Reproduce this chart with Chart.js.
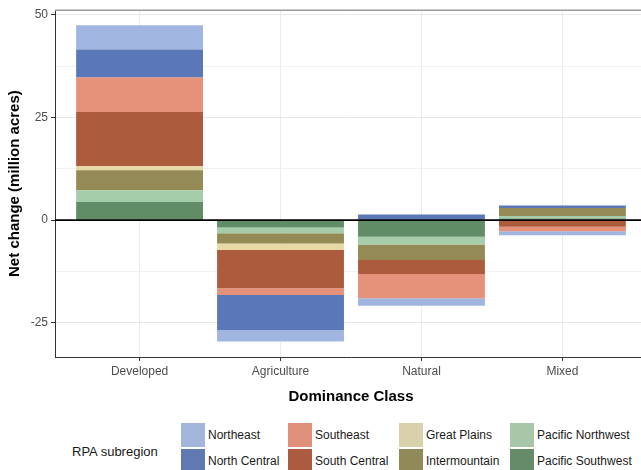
<!DOCTYPE html>
<html>
<head>
<meta charset="utf-8">
<script src="https://cdn.jsdelivr.net/npm/chart.js@4.4.1/dist/chart.umd.min.js"></script>
<style>
  body { margin: 0; background: #fff; font-family: "Liberation Sans", Arial, sans-serif; }
  #frame { position: relative; width: 641px; height: 470px; overflow: hidden; background: #fff; }
  #plot { position: absolute; left: 0; top: 0; width: 647px; height: 410px; }
  .legend-title { position: absolute; left: 72px; top: 444px; font-size: 13px; line-height: 16px; color: #1a1a1a; }
  .key { position: absolute; width: 24px; height: 24px; }
  .key-label { position: absolute; font-size: 12px; line-height: 24px; color: #1a1a1a; white-space: nowrap; }
</style>
</head>
<body>
<div id="frame">
  <div id="plot"><canvas id="chart"></canvas></div>
  <div class="legend-title">RPA subregion</div>
  <div id="legend"></div>
</div>
<script>
// Categories and series (million acres)
const categories = ['Developed', 'Agriculture', 'Natural', 'Mixed'];
const regions = ['Northeast', 'North Central', 'Southeast', 'South Central',
                 'Great Plains', 'Intermountain', 'Pacific Northwest', 'Pacific Southwest'];

const northeast        = [5.9, -2.85, -1.8, -1.0];
const northCentral     = [6.8, -8.5, 1.4, 0.65];
const southeast        = [8.4, -1.65, -5.9, -1.1];
const southCentral     = [13.2, -9.3, -3.4, -1.6];
const greatPlains      = [1.0, -1.6, 0, 0];
const intermountain    = [4.85, -2.45, -3.8, 1.95];
const pacificNorthwest = [2.85, -1.4, -1.85, 0.6];
const pacificSouthwest = [4.45, -1.8, -4.05, 0.4];

const yTicks = [-25, 0, 25, 50];
const yMinorTicks = [-12.5, 12.5, 37.5];

const barColors = ['#a1b5e1', '#5a77b7', '#e6917a', '#ad5b3d', '#e6d9a6', '#948a56', '#a6cdaa', '#618d66'];
const keyColors = ['#a4b5dc', '#6079b1', '#e0917b', '#ab5c40', '#d8d1ab', '#908a58', '#a8c7a8', '#658b69'];

const seriesValues = [northeast, northCentral, southeast, southCentral,
                      greatPlains, intermountain, pacificNorthwest, pacificSouthwest];

// ggplot stacks the last level next to zero, so feed datasets in reverse
const datasets = regions.map((name, i) => ({
  label: name,
  data: seriesValues[i].map((v, j) => ({ x: j + 1, y: v })),
  backgroundColor: barColors[i],
  borderWidth: 0,
  barPercentage: 0.9,
  categoryPercentage: 1.0
})).reverse();

const refLines = {
  id: 'refLines',
  afterDatasetsDraw(chart) {
    const { ctx, chartArea, scales } = chart;
    const y0 = scales.y.getPixelForValue(0);
    ctx.save();
    ctx.strokeStyle = '#000';
    ctx.lineWidth = 1.6;
    ctx.beginPath();
    ctx.moveTo(chartArea.left, y0);
    ctx.lineTo(chartArea.right, y0);
    ctx.stroke();
    // top panel border
    ctx.strokeStyle = '#9a9a9a';
    ctx.lineWidth = 1.5;
    ctx.beginPath();
    ctx.moveTo(chartArea.left, chartArea.top);
    ctx.lineTo(chartArea.right, chartArea.top);
    ctx.stroke();
    ctx.restore();
  }
};

const tickFont = { family: '"Liberation Sans", Arial, sans-serif', size: 12 };
const titleFont = { family: '"Liberation Sans", Arial, sans-serif', size: 15, weight: 'bold' };

new Chart(document.getElementById('chart'), {
  type: 'bar',
  data: { datasets },
  options: {
    responsive: true,
    maintainAspectRatio: false,
    animation: false,
    devicePixelRatio: 1,
    layout: { padding: { top: 10, right: 0, bottom: 0, left: 0 } },
    plugins: { legend: { display: false }, tooltip: { enabled: false } },
    scales: {
      x: {
        type: 'linear',
        stacked: true,
        offset: false,
        min: 0.4,
        max: 4.6,
        afterBuildTicks: (scale) => { scale.ticks = categories.map((c, i) => ({ value: i + 1 })); },
        afterFit: (scale) => { scale.height = 53; },
        ticks: {
          callback: (v) => categories[v - 1],
          color: '#4d4d4d',
          font: tickFont,
          padding: 3,
          maxRotation: 0,
          autoSkip: false
        },
        grid: { offset: false, color: '#ebebeb', lineWidth: 1, tickColor: '#333', tickLength: 4 },
        border: { color: '#333', width: 1 },
        title: { display: true, text: 'Dominance Class', color: '#000', font: titleFont, padding: { top: 0, bottom: 4 } }
      },
      y: {
        stacked: true,
        min: -33.3,
        max: 51.1,
        afterBuildTicks: (scale) => {
          scale.ticks = [...yTicks, ...yMinorTicks].sort((a, b) => a - b).map(v => ({ value: v }));
        },
        afterFit: (scale) => { scale.width = 55; },
        ticks: {
          callback: (v) => yTicks.includes(v) ? String(v) : '',
          color: '#4d4d4d',
          font: tickFont,
          padding: 3
        },
        grid: {
          color: (c) => yTicks.includes(c.tick.value) ? '#e8e8e8' : '#f1f1f1',
          lineWidth: 1,
          tickColor: (c) => yTicks.includes(c.tick.value) ? '#333' : 'rgba(0,0,0,0)',
          tickLength: 4
        },
        border: { color: '#333', width: 1 },
        title: { display: true, text: 'Net change (million acres)', color: '#000', font: titleFont, padding: { top: 6, bottom: 0 } }
      }
    }
  },
  plugins: [refLines]
});

// Legend: two rows, four columns, filled column by column
const legend = document.getElementById('legend');
const keyCols = [181, 288, 399, 510];
const keyRows = [423, 449];
regions.forEach((name, i) => {
  const left = keyCols[Math.floor(i / 2)];
  const top = keyRows[i % 2];
  const key = document.createElement('div');
  key.className = 'key';
  key.style.left = left + 'px';
  key.style.top = top + 'px';
  key.style.background = keyColors[i];
  legend.appendChild(key);
  const label = document.createElement('div');
  label.className = 'key-label';
  label.style.left = (left + 27) + 'px';
  label.style.top = top + 'px';
  label.textContent = name;
  legend.appendChild(label);
});
</script>
</body>
</html>
